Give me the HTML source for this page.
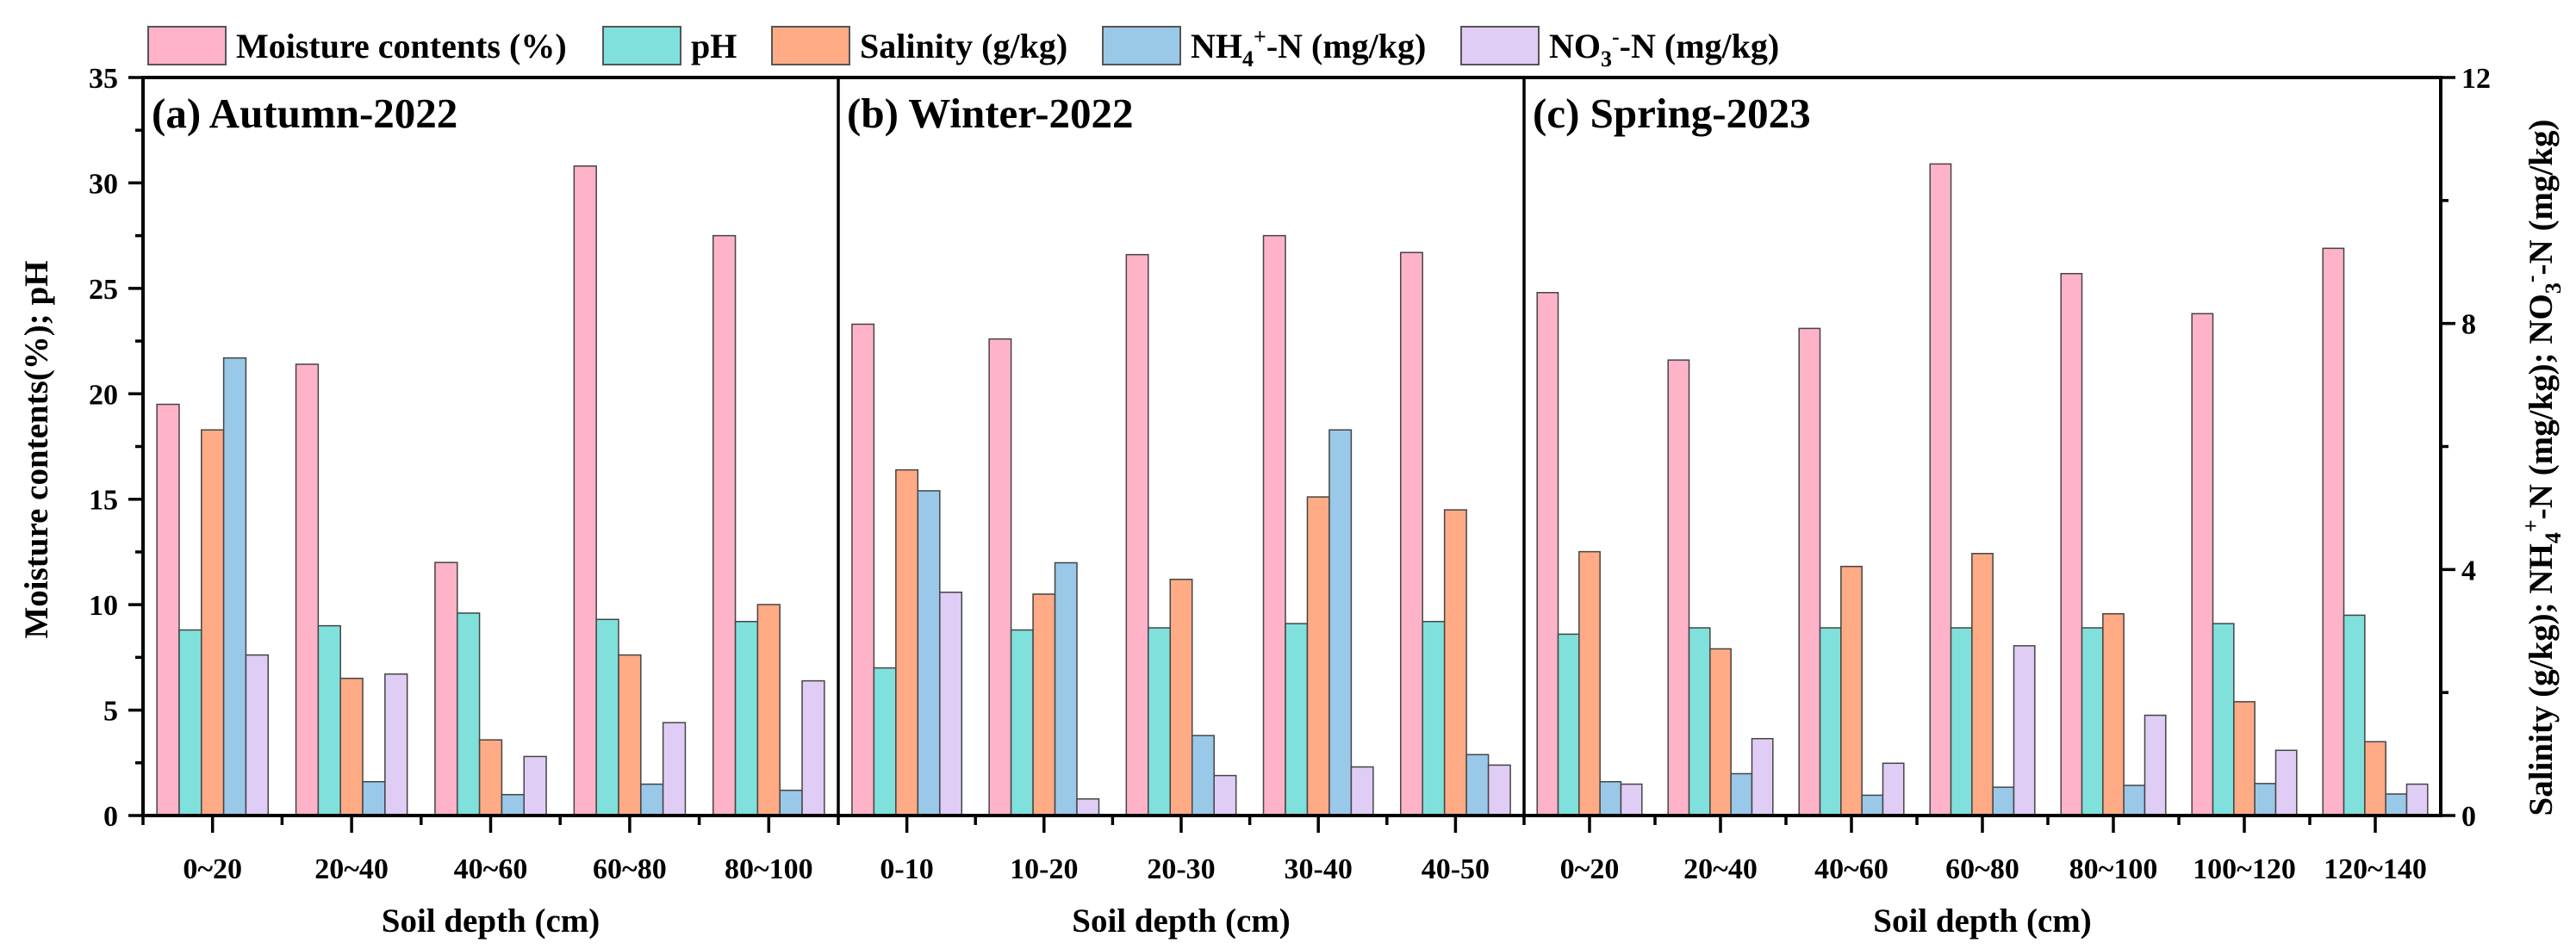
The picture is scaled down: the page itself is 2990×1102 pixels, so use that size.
<!DOCTYPE html>
<html><head><meta charset="utf-8"><style>
html,body{margin:0;padding:0;background:#fff}
svg{display:block;font-family:"Liberation Serif",serif;font-weight:bold}
</style></head><body>
<svg id="chart" width="2990" height="1102" viewBox="0 0 2990 1102" xmlns="http://www.w3.org/2000/svg"></svg>
<script>
// Panel categories
const catsA = ["0~20","20~40","40~60","60~80","80~100"];
const catsB = ["0-10","10-20","20-30","30-40","40-50"];
const catsC = ["0~20","20~40","40~60","60~80","80~100","100~120","120~140"];
// Left-axis series (Moisture %, pH)
const moistA = [19.5,21.4,12.0,30.8,27.5];
const phA = [8.8,9.0,9.6,9.3,9.2];
const moistB = [23.3,22.6,26.6,27.5,26.7];
const phB = [7.0,8.8,8.9,9.1,9.2];
const moistC = [24.8,21.6,23.1,30.9,25.7,23.8,26.9];
const phC = [8.6,8.9,8.9,8.9,8.9,9.1,9.5];
// Right-axis series (Salinity g/kg, NH4+-N, NO3--N mg/kg)
const salA = [6.27,2.23,1.23,2.61,3.43];
const nh4A = [7.44,0.55,0.34,0.51,0.41];
const no3A = [2.61,2.30,0.96,1.51,2.19];
const salB = [5.62,3.60,3.84,5.18,4.97];
const nh4B = [5.28,4.11,1.30,6.27,0.99];
const no3B = [3.63,0.27,0.65,0.79,0.82];
const salC = [4.29,2.71,4.05,4.26,3.28,1.85,1.20];
const nh4C = [0.55,0.68,0.33,0.46,0.49,0.52,0.35];
const no3C = [0.51,1.25,0.85,2.76,1.63,1.06,0.51];
// Axis ticks
const leftTicks = [0,5,10,15,20,25,30,35];
const rightTicks = [0,4,8,12];
const seriesNames = ["Moisture contents (%)","pH","Salinity (g/kg)","NH4+-N (mg/kg)","NO3--N (mg/kg)"];

const NS="http://www.w3.org/2000/svg";
const svg=document.getElementById('chart');
const X0=166,X1=2833,Y0=947,Y1=90;
const colors=["#ffb3c8","#80e0dc","#ffab85","#9ac8e8","#e0cdf5"];
const yL=v=>Y0-(v/35)*(Y0-Y1);
const yR=v=>Y0-(v/12)*(Y0-Y1);
function el(tag,attrs,parent){const e=document.createElementNS(NS,tag);for(const k in attrs)e.setAttribute(k,attrs[k]);(parent||svg).appendChild(e);return e;}

const panels=[
 {name:"autumn",x0:166,x1:973,title:"(a) Autumn-2022",cats:catsA,s:[moistA,phA,salA,nh4A,no3A]},
 {name:"winter",x0:973,x1:1769,title:"(b) Winter-2022",cats:catsB,s:[moistB,phB,salB,nh4B,no3B]},
 {name:"spring",x0:1769,x1:2833,title:"(c) Spring-2023",cats:catsC,s:[moistC,phC,salC,nh4C,no3C]}
];
panels.forEach(p=>{
  const g=el('g',{});
  
  
  const n=p.cats.length, gw=(p.x1-p.x0)/n, bw=gw*0.16;
  const xC=i=>p.x0+gw*(i+0.5);
  p.cats.forEach((c,i)=>{
    for(let k=0;k<5;k++){
      const v=p.s[k][i];
      const y=k<2?yL(v):yR(v);
      const r=el('rect',{x:xC(i)-2.5*bw+k*bw,y:y,width:bw,height:Y0-y,fill:colors[k],stroke:"#444","stroke-width":1.5},g);
      
      
    }
    el('line',{x1:xC(i),x2:xC(i),y1:Y0,y2:Y0+20,stroke:"#000","stroke-width":3.5},g);
    el('line',{x1:p.x0+gw*i,x2:p.x0+gw*i,y1:Y0,y2:Y0+11,stroke:"#000","stroke-width":3.5},g);
    const t=el('text',{x:xC(i),y:1020,"text-anchor":"middle","font-size":34},g);
    t.textContent=c;
    
    
  });
  const tt=el('text',{x:p.x0+10,y:148,"font-size":49},g);
  tt.textContent=p.title;
  
  
  const xt=el('text',{x:(p.x0+p.x1)/2,y:1082,"text-anchor":"middle","font-size":39},g);
  xt.textContent="Soil depth (cm)";
  
  
});
// frame
el('rect',{x:X0,y:Y1,width:X1-X0,height:Y0-Y1,fill:"none",stroke:"#000","stroke-width":4});
el('line',{x1:973,x2:973,y1:Y1,y2:Y0,stroke:"#000","stroke-width":3.5});
el('line',{x1:1769,x2:1769,y1:Y1,y2:Y0,stroke:"#000","stroke-width":3.5});
// left ticks
leftTicks.forEach(v=>{
  el('line',{x1:X0-17,x2:X0,y1:yL(v),y2:yL(v),stroke:"#000","stroke-width":3.5});
  if(v<35) el('line',{x1:X0-9,x2:X0,y1:yL(v+2.5),y2:yL(v+2.5),stroke:"#000","stroke-width":3.5});
  const t=el('text',{x:X0-29,y:yL(v)+12,"text-anchor":"end","font-size":34});
  t.textContent=v;
  
  
});
rightTicks.forEach(v=>{
  el('line',{x1:X1,x2:X1+17,y1:yR(v),y2:yR(v),stroke:"#000","stroke-width":3.5});
  if(v<12) el('line',{x1:X1,x2:X1+9,y1:yR(v+2),y2:yR(v+2),stroke:"#000","stroke-width":3.5});
  const t=el('text',{x:X1+24,y:yR(v)+12,"font-size":34});
  t.textContent=v;
  
  
});
const lt=el('text',{transform:"translate(55,522) rotate(-90)","text-anchor":"middle","font-size":39});
lt.textContent="Moisture contents(%); pH";


const rt=el('text',{transform:"translate(2962,543) rotate(-90)","text-anchor":"middle","font-size":39});
rt.innerHTML='Salinity (g/kg); NH<tspan dy="10" font-size="26">4</tspan><tspan dy="-26" font-size="26">+</tspan><tspan dy="16">-N (mg/kg); NO</tspan><tspan dy="10" font-size="26">3</tspan><tspan dy="-26" font-size="26">-</tspan><tspan dy="16">-N (mg/kg)</tspan>';


// legend
const legX=[172,700,896,1280,1696];
const legHTML=['Moisture contents (%)','pH','Salinity (g/kg)','NH<tspan dy="10" font-size="26">4</tspan><tspan dy="-26" font-size="26">+</tspan><tspan dy="16">-N (mg/kg)</tspan>','NO<tspan dy="10" font-size="26">3</tspan><tspan dy="-26" font-size="26">-</tspan><tspan dy="16">-N (mg/kg)</tspan>'];
legX.forEach((x,i)=>{
  const g=el('g',{});
  
  
  el('rect',{x:x,y:31,width:90,height:44,fill:colors[i],stroke:"#555","stroke-width":2},g);
  const t=el('text',{x:x+102,y:67,"font-size":40},g);
  t.innerHTML=legHTML[i];
});
</script>
</body></html>
